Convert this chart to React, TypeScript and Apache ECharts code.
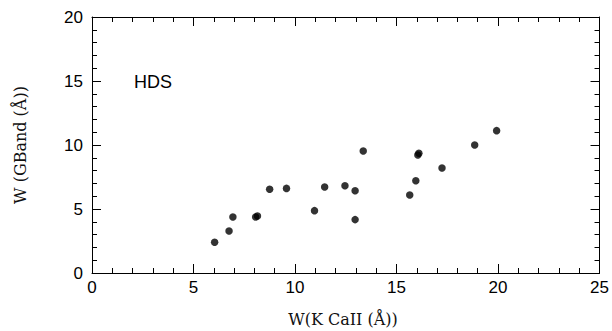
import React, { useEffect, useRef } from "react";
import * as echarts from "echarts";

const xValues = [6.04, 6.75, 6.94, 8.06, 8.15, 8.75, 9.58, 10.96, 11.46, 12.46, 12.96, 12.96, 13.36, 15.65, 15.95, 16.05, 16.1, 17.24, 18.85, 19.93];
const yValues = [2.4, 3.28, 4.38, 4.38, 4.45, 6.54, 6.61, 4.87, 6.72, 6.82, 6.43, 4.17, 9.53, 6.09, 7.21, 9.22, 9.35, 8.2, 10.0, 11.12];
const xTitle = "W(K CaII (Å))";
const yTitle = "W (GBand (Å))";
const panelLabel = "HDS";

export default function App() {
  const ref = useRef<HTMLDivElement>(null);
  useEffect(() => {
    if (!ref.current) return;
    const chart = echarts.init(ref.current, null, { renderer: "svg" });
    const data = xValues.map((x, i) => [x, yValues[i]]);
    const tickFont = { color: "#000", fontFamily: "Liberation Sans", fontSize: 17 };
    const baseX = {
      type: "value" as const,
      min: 0,
      max: 25,
      interval: 5,
      axisLine: { show: true, onZero: false, lineStyle: { color: "#000", width: 1 } },
      axisTick: { show: true, inside: true, length: 9, lineStyle: { color: "#000" } },
      minorTick: { show: true, splitNumber: 5, length: 5, lineStyle: { color: "#000" } },
      splitLine: { show: false },
    };
    const baseY = {
      type: "value" as const,
      min: 0,
      max: 20,
      interval: 5,
      axisLine: { show: true, onZero: false, lineStyle: { color: "#000", width: 1 } },
      axisTick: { show: true, inside: true, length: 9, lineStyle: { color: "#000" } },
      minorTick: { show: true, splitNumber: 5, length: 5, lineStyle: { color: "#000" } },
      splitLine: { show: false },
    };
    chart.setOption({
      animation: false,
      backgroundColor: "#fff",
      grid: { left: 92, right: 12, top: 17, bottom: 58 },
      xAxis: [
        { ...baseX, position: "bottom", axisLabel: { ...tickFont, margin: 6 } },
        { ...baseX, position: "top", axisLabel: { show: false } },
      ],
      yAxis: [
        { ...baseY, position: "left", axisLabel: { ...tickFont, margin: 9 } },
        { ...baseY, position: "right", axisLabel: { show: false } },
      ],
      graphic: [
        {
          type: "text",
          x: 343,
          y: 319,
          style: { text: xTitle, fill: "#111", font: "16px 'DejaVu Serif'", textAlign: "center", textVerticalAlign: "middle" },
        },
        {
          type: "text",
          x: 20,
          y: 145,
          rotation: Math.PI / 2,
          style: { text: yTitle, fill: "#111", font: "16px 'DejaVu Serif'", textAlign: "center", textVerticalAlign: "middle" },
        },
        {
          type: "text",
          x: 134,
          y: 82,
          style: { text: panelLabel, fill: "#000", font: "18px 'Liberation Sans'", textAlign: "left", textVerticalAlign: "middle" },
        },
      ],
      series: [
        {
          type: "scatter",
          data,
          symbol: "circle",
          symbolSize: 7.5,
          itemStyle: { color: "#000" },
        },
      ],
    });
    return () => chart.dispose();
  }, []);
  return <div ref={ref} style={{ width: 612, height: 331, position: "absolute", left: 0, top: 0 }} />;
}
